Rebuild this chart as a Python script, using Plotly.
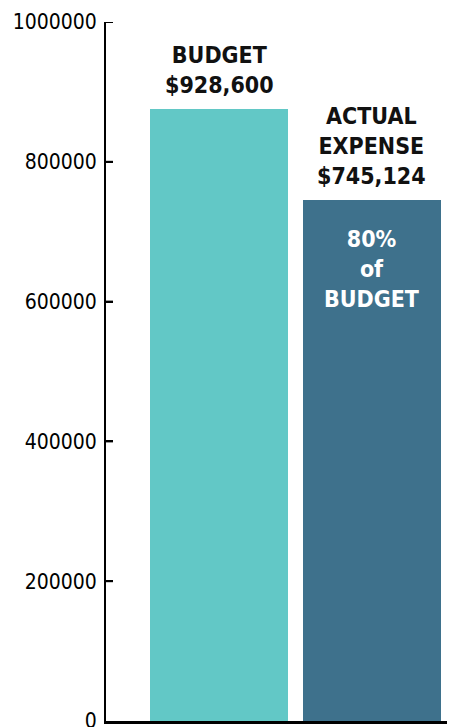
import plotly.graph_objects as go

categories = ["BUDGET", "ACTUAL<br>EXPENSE"]
bar_values = [875000, 745124]          # bar heights as drawn in the picture
label_amounts = [928600, 745124]       # amounts printed above the bars
bar_colors = ["#62C8C6", "#3E718C"]
tick_vals = [0, 200000, 400000, 600000, 800000, 1000000]
tick_text = ["0", "200000", "400000", "600000", "800000", "1000000"]

FONT = "'DejaVu Sans Condensed', 'Liberation Sans Narrow', sans-serif"

fig = go.Figure()
fig.add_trace(go.Bar(
    x=[0, 1],
    y=bar_values,
    width=0.905,
    marker=dict(color=bar_colors, line=dict(width=0)),
    hoverinfo="skip",
))

for i, (cat, amt, val) in enumerate(zip(categories, label_amounts, bar_values)):
    fig.add_annotation(
        x=i, y=val, xref="x", yref="y",
        text=f"<b>{cat}<br>${amt:,}</b>",
        showarrow=False, yanchor="bottom", xanchor="center",
        yshift=9,
        font=dict(family=FONT, size=23, color="#111111"),
        align="center",
    )

pct = round(label_amounts[1] / label_amounts[0] * 100)
fig.add_annotation(
    x=1, y=bar_values[1], xref="x", yref="y",
    text=f"<b>{pct}%<br>of<br>BUDGET</b>",
    showarrow=False, yanchor="top", xanchor="center",
    yshift=-24,
    font=dict(family=FONT, size=23, color="white"),
    align="center",
)

# small tick marks to the right of the y axis line
for tv in tick_vals[1:]:
    fig.add_shape(
        type="line", xref="paper", yref="y",
        x0=0, x1=0.02, y0=tv, y1=tv,
        line=dict(color="black", width=2),
    )

fig.update_layout(
    width=447, height=719, autosize=False,
    margin=dict(l=98, r=0, t=14, b=6, pad=0),
    plot_bgcolor="white", paper_bgcolor="white",
    showlegend=False,
    bargap=0,
    xaxis=dict(
        range=[-0.741, 1.546],
        showline=True, linecolor="black", linewidth=3,
        showticklabels=False, ticks="", showgrid=False, zeroline=False,
        fixedrange=True, automargin=False,
    ),
    yaxis=dict(
        range=[0, 1000000],
        tickvals=tick_vals, ticktext=tick_text,
        showline=True, linecolor="black", linewidth=2,
        ticks="inside", ticklen=7, tickwidth=2, tickcolor="black",
        showgrid=False, zeroline=False, automargin=False,
        tickfont=dict(family=FONT, size=21, color="black"),
        ticklabelstandoff=3,
        ticklabeloverflow="allow",
        layer="above traces",
    ),
)

fig.write_html("out.html")
